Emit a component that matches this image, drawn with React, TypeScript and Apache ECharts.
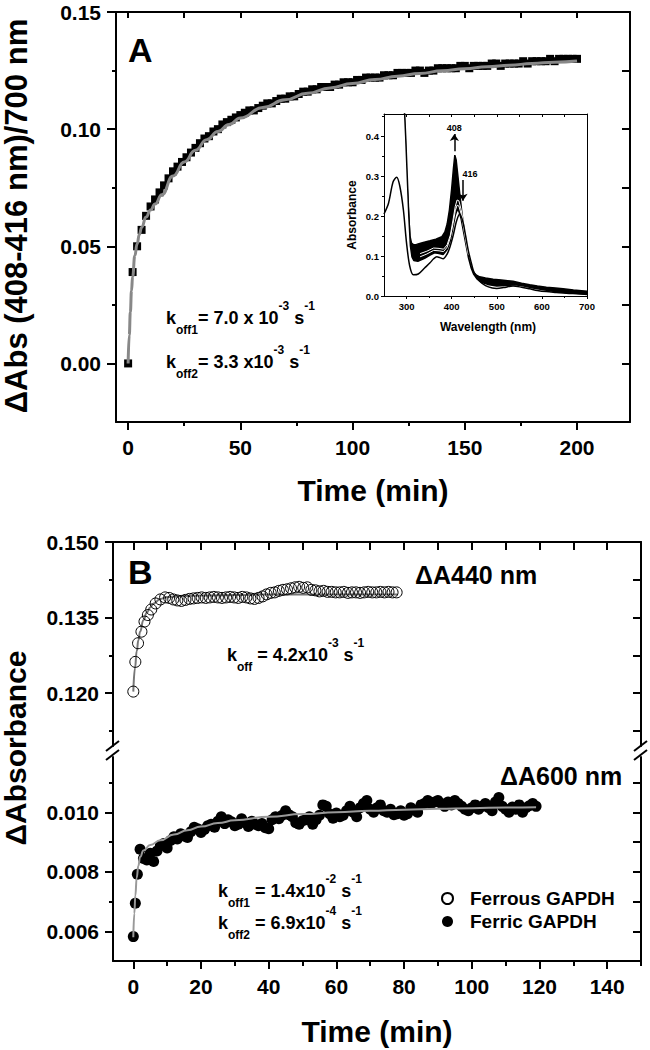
import React, { useEffect, useRef } from "react";
import * as echarts from "echarts";

const FONT = '"Liberation Sans", Arial, Helvetica, sans-serif';

// ---------------- Panel A : kinetics (408-416 nm)/700 nm ----------------
const timeA = [0,2,4,6,8,10,12,14,16,18,20,22,24,26,28,30,32,34,36,38,40,42,44,46,48,50,52,54,56,58,60,62,64,66,68,70,72,74,76,78,80,82,84,86,88,90,92,94,96,98,100,102,104,106,108,110,112,114,116,118,120,122,124,126,128,130,132,134,136,138,140,142,144,146,148,150,152,154,156,158,160,162,164,166,168,170,172,174,176,178,180,182,184,186,188,190,192,194,196,198,200];
const deltaAbsA = [0.000,0.039,0.050,0.057,0.063,0.067,0.070,0.073,0.076,0.079,
  0.082,0.084,0.086,0.088,0.090,0.092,0.094,0.096,0.097,0.099,
  0.100,0.102,0.103,0.104,0.105,0.106,0.107,0.108,0.108,0.109,
  0.110,0.111,0.111,0.112,0.113,0.113,0.114,0.114,0.115,0.116,
  0.116,0.117,0.117,0.118,0.118,0.118,0.119,0.119,0.120,0.120,
  0.120,0.121,0.121,0.122,0.122,0.122,0.122,0.123,0.123,0.123,
  0.124,0.124,0.124,0.124,0.125,0.125,0.124,0.125,0.125,0.126,
  0.126,0.126,0.126,0.126,0.127,0.127,0.126,0.127,0.127,0.127,
  0.127,0.128,0.128,0.127,0.128,0.128,0.128,0.128,0.129,0.128,
  0.129,0.129,0.129,0.129,0.130,0.129,0.130,0.130,0.130,0.130,0.130];
const fitTimeA = [0,0.5,1,1.5,2,3,4,5,6,8,10,12,15,20,25,30,35,40,45,50,60,70,80,90,100,110,120,130,140,150,160,170,180,190,200];
const fitValA = [0,0.012,0.022,0.031,0.037,0.046,0.051,0.055,0.058,0.0625,0.0655,0.068,0.072,0.080,0.086,0.091,0.0955,0.099,0.102,0.1048,0.1092,0.1125,0.1153,0.1176,0.1195,0.1212,0.1226,0.1238,0.1249,0.1258,0.1266,0.1273,0.1280,0.1286,0.1291];

const xTicksA = [0, 50, 100, 150, 200];
const xMinorA = [25, 75, 125, 175];
const yTicksA = [0, 0.05, 0.1, 0.15];
const yMinorA = [0.025, 0.075, 0.125];

// ---------------- Inset : spectra ----------------
const initialWl = [250,260,270,278,285,293,300,307,315,326,340,352,360,367,374,381,390,396,403,411,418,425,431,437,443,448,455,462,475,490,500,515,536,555,573,590,610,632,654,676,700];
const initialAbs = [0.205,0.232,0.285,0.297,0.275,0.215,0.132,0.075,0.053,0.055,0.070,0.083,0.093,0.098,0.096,0.093,0.105,0.122,0.150,0.188,0.205,0.185,0.150,0.113,0.085,0.064,0.048,0.037,0.026,0.020,0.019,0.021,0.025,0.022,0.018,0.014,0.011,0.009,0.007,0.006,0.005];
const finalWl = [294,297,300,303.8,307.5,311,316,322,335,352,365,378,385,390,395,400,404,407,410,414,418,422,426,430,436,442,448,455,462,475,492,510,536,555,573,590,610,630,647,670,700];
const finalAbs = [0.47,0.40,0.30,0.223,0.150,0.132,0.128,0.129,0.133,0.138,0.142,0.148,0.160,0.180,0.215,0.268,0.320,0.352,0.340,0.298,0.255,0.215,0.178,0.145,0.100,0.075,0.060,0.052,0.048,0.045,0.042,0.040,0.037,0.032,0.028,0.025,0.022,0.020,0.018,0.015,0.012];
const earlyWl = [290,298,301.5,305,308.5,312,316,325,340,352,362,372,381,390,397,403,408,412,416,421,426,431,437,443,449,456,465,480,500,520,540,560,580,600,625,650,675,700];
const earlyAbs = [0.60,0.40,0.30,0.20,0.125,0.098,0.089,0.087,0.094,0.102,0.108,0.106,0.104,0.116,0.138,0.172,0.202,0.215,0.212,0.193,0.163,0.133,0.097,0.071,0.054,0.043,0.035,0.029,0.025,0.026,0.028,0.025,0.020,0.016,0.012,0.009,0.006,0.004];
const midWl = [330,345,360,372,382,390,397,403,408,412,416,421,426,431,437];
const mid1Abs = [0.106,0.112,0.120,0.119,0.117,0.128,0.152,0.190,0.224,0.240,0.238,0.216,0.183,0.149,0.109];
const mid2Abs = [0.098,0.105,0.114,0.113,0.111,0.122,0.146,0.181,0.213,0.227,0.225,0.205,0.173,0.141,0.103];

const xTicksInset = [300, 400, 500, 600, 700];
const yTicksInset = [0, 0.1, 0.2, 0.3, 0.4];

// ---------------- Panel B ----------------
const tFerrous = [0,0.6,1.4,2.4,3.3,4.3,5.3,6.6,8.0,9.4,10.6,11.8,13.0,14.2,15.4,16.6,17.8,19.0,20.2,21.4,22.6,23.8,25.0,26.2,27.4,28.6,29.8,31.0,32.2,33.4,34.6,35.8,37.0,38.2,39.4,40.6,41.8,43.0,44.2,45.4,46.6,47.8,49.0,50.2,51.4,52.6,53.8,55.0,56.2,57.4,58.6,59.8,61.0,62.2,63.4,64.6,65.8,67.0,68.2,69.4,70.6,71.8,73.0,74.2,75.4,76.6,77.8];
const aFerrous = [0.1203,0.1262,0.1299,0.1322,0.1342,0.1355,0.1366,0.1378,0.1386,0.1390,0.1389,0.1386,0.1384,0.1383,0.1385,0.1387,0.1388,0.1389,0.1390,0.1389,0.1390,0.1391,0.1390,0.1389,0.1390,0.1391,0.1390,0.1389,0.1391,0.1390,0.1388,0.1387,0.1389,0.1392,0.1396,0.1399,0.1400,0.1403,0.1405,0.1406,0.1408,0.1410,0.1411,0.1409,0.1410,0.1405,0.1404,0.1402,0.1403,0.1401,0.1401,0.1400,0.1400,0.1401,0.1399,0.1400,0.1400,0.1399,0.1400,0.1401,0.1400,0.1400,0.1401,0.1400,0.1401,0.1400,0.1400];
const tFerrousFit = [0,0.5,1,1.5,2,3,4,5,6,8,10,15,20,30,40,50,60,78];
const aFerrousFit = [0.1203,0.1250,0.1283,0.1305,0.1322,0.1345,0.1360,0.1370,0.1378,0.1387,0.1391,0.1393,0.1394,0.1395,0.1396,0.1396,0.1396,0.1396];

const tFerric = [0,0.6,1.2,2,3,4,5,6,7,8,9,10,11,12,13,14,15,16,17,18,19,20,21,22,23,24,25,26,27,28,29,30,31,32,33,34,35,36,37,38,39,40,41,42,43,44,45,46,47,48,49,50,51,52,53,54,55,56,57,58,59,60,61,62,63,64,65,66,67,68,69,70,71,72,73,74,75,76,77,78,79,80,81,82,83,84,85,86,87,88,89,90,91,92,93,94,95,96,97,98,99,100,101,102,103,104,105,106,107,108,109,110,111,112,113,114,115,116,117,118,119];
const aFerric = [0.00582,0.00694,0.00792,0.00876,
  0.00845,0.00840,0.00862,0.00835,0.00870,0.00888,0.00895,0.00880,0.00905,0.00918,
  0.00910,0.00928,0.00920,0.00915,0.00935,0.00950,0.00945,0.00932,0.00942,0.00955,
  0.00960,0.00950,0.00970,0.00985,0.00962,0.00975,0.00968,0.00955,0.00960,0.00978,
  0.00965,0.00952,0.00970,0.00960,0.00955,0.00962,0.00948,0.00945,0.00975,0.00985,
  0.00978,0.00990,0.01005,0.00992,0.00985,0.00965,0.00960,0.00972,0.00975,0.00985,
  0.00960,0.00975,0.00990,0.01025,0.01020,0.00995,0.00980,0.00998,0.00985,0.00990,
  0.01005,0.01020,0.01000,0.00985,0.01015,0.01030,0.01040,0.01010,0.01000,0.01015,
  0.01025,0.01005,0.01000,0.01010,0.00992,0.00995,0.01005,0.00990,0.00995,0.01015,
  0.01008,0.01000,0.01025,0.01030,0.01040,0.01030,0.01035,0.01040,0.01030,0.01020,
  0.01035,0.01025,0.01040,0.01030,0.01020,0.01010,0.01005,0.01015,0.01025,0.01010,
  0.01020,0.01030,0.01015,0.01005,0.01035,0.01050,0.01020,0.01010,0.01000,0.01018,
  0.01010,0.01025,0.01000,0.01015,0.01022,0.01030,0.01020];
const tFerricFit = [0,0.3,0.6,1,1.5,2,3,5,8,12,16,20,25,30,40,50,60,70,80,90,100,110,119];
const aFerricFit = [0.0058,0.0066,0.0072,0.0078,0.0082,0.0085,0.00872,0.0089,0.00906,0.00925,0.0094,0.00952,0.00964,0.00973,0.00985,0.00994,0.0100,0.01005,0.01009,0.01012,0.01014,0.01016,0.01017];

const xTicksB = [0, 20, 40, 60, 80, 100, 120, 140];
const xMinorB = [10, 30, 50, 70, 90, 110, 130, 150];
const xTopB = [0, 10, 20, 30, 40, 50, 60, 70, 80, 90, 100, 110, 120, 130, 140];
const yTicksB1 = [0.12, 0.135, 0.15];
const yMinorB1 = [0.1125, 0.1275, 0.1425];
const yTicksB2 = [0.006, 0.008, 0.01];
const yMinorB2 = [0.007, 0.009, 0.011];

const pairs = (xs: number[], ys: number[]) => xs.map((x, i) => [x, ys[i]]);

function ax(o: any) {
  const {
    gridIndex, position, min, max, line = false, lineWidth = 2, ticks, tickLen = 8,
    tickInside = false, tickWidth = 2, labels, fmt, fontSize = 21, margin = 14, z = 0,
  } = o;
  return {
    type: "value", gridIndex, position, min, max, z,
    axisLine: { show: line, onZero: false, lineStyle: { color: "#000", width: lineWidth } },
    axisTick: ticks
      ? { show: true, customValues: ticks, inside: tickInside, length: tickLen, lineStyle: { color: "#000", width: tickWidth } }
      : { show: false },
    axisLabel: labels
      ? { show: true, customValues: labels, formatter: fmt, margin, fontSize, fontWeight: "bold", fontFamily: FONT, color: "#000" }
      : { show: false },
    splitLine: { show: false },
    axisPointer: { show: false },
  };
}

const richK = {
  m: { fontSize: 18, fontWeight: "bold", fontFamily: FONT, color: "#000", lineHeight: 36 },
  sub: { fontSize: 12, fontWeight: "bold", fontFamily: FONT, color: "#000", lineHeight: 12, verticalAlign: "bottom" },
  sup: { fontSize: 12, fontWeight: "bold", fontFamily: FONT, color: "#000", lineHeight: 24, verticalAlign: "top" },
};

function txt(x: number, y: number, text: string, fontSize: number, extra: any = {}) {
  return {
    type: "text", x, y, rotation: extra.rotation || 0, z: 100,
    style: {
      text, fontSize, fontWeight: extra.weight || "bold", fontFamily: FONT, fill: "#000",
      align: extra.align || "left", verticalAlign: "middle", rich: extra.rich,
    },
  };
}

function ln(x1: number, y1: number, x2: number, y2: number) {
  return { type: "line", z: 100, shape: { x1, y1, x2, y2 }, style: { stroke: "#000", lineWidth: 2 } };
}

export default function App() {
  const ref = useRef<HTMLDivElement>(null);
  useEffect(() => {
    document.body.style.margin = "0";
    const chart = echarts.init(ref.current!, null, { renderer: "svg" });
    const minA = -5.4, maxA = 223.6, yminA = -0.025, ymaxA = 0.15;
    const f2 = (v: number) => v.toFixed(2);
    const f1 = (v: number) => v.toFixed(1);
    const f3 = (v: number) => v.toFixed(3);
    const fs = (v: number) => String(v);
    const option: any = {
      animation: false,
      backgroundColor: "#fff",
      grid: [
        { left: 116, top: 12, width: 514, height: 410 },
        { left: 384, top: 114, width: 203, height: 182 },
        { left: 113, top: 542, width: 528, height: 204 },
        { left: 113, top: 757, width: 528, height: 204 },
      ],
      xAxis: [
        ax({ gridIndex: 0, position: "bottom", min: minA, max: maxA, line: true, ticks: xTicksA, tickLen: 8, labels: xTicksA, fmt: fs, margin: 15 }),
        ax({ gridIndex: 0, position: "bottom", min: minA, max: maxA, ticks: xMinorA, tickLen: 4 }),
        ax({ gridIndex: 0, position: "top", min: minA, max: maxA, line: true, ticks: [...xTicksA, ...xMinorA], tickInside: true, tickLen: 6 }),
        ax({ gridIndex: 1, position: "bottom", min: 250, max: 700, line: true, lineWidth: 1, ticks: xTicksInset, tickLen: 3, tickWidth: 1, labels: xTicksInset, fmt: fs, fontSize: 9.5, margin: 5, z: 10 }),
        ax({ gridIndex: 1, position: "top", min: 250, max: 700, line: true, lineWidth: 1, ticks: [300, 350, 400, 450, 500, 550, 600, 650], tickInside: true, tickLen: 3, tickWidth: 1, z: 10 }),
        ax({ gridIndex: 3, position: "bottom", min: -6, max: 150, line: true, ticks: xTicksB, tickLen: 8, labels: xTicksB, fmt: fs, margin: 15 }),
        ax({ gridIndex: 3, position: "bottom", min: -6, max: 150, ticks: xMinorB, tickLen: 5 }),
        ax({ gridIndex: 2, position: "top", min: -6, max: 150, line: true, ticks: xTopB, tickInside: true, tickLen: 8 }),
        ax({ gridIndex: 1, position: "bottom", min: 250, max: 700, ticks: [350, 450, 550, 650], tickLen: 2, tickWidth: 1, z: 10 }),
      ],
      yAxis: [
        ax({ gridIndex: 0, position: "left", min: yminA, max: ymaxA, line: true, ticks: yTicksA, tickLen: 9, labels: yTicksA, fmt: f2, margin: 15 }),
        ax({ gridIndex: 0, position: "left", min: yminA, max: ymaxA, ticks: yMinorA, tickLen: 4 }),
        ax({ gridIndex: 0, position: "right", min: yminA, max: ymaxA, line: true, ticks: [...yTicksA.slice(0, 3), ...yMinorA], tickInside: true, tickLen: 8 }),
        ax({ gridIndex: 1, position: "left", min: 0, max: 0.455, line: true, lineWidth: 1, ticks: yTicksInset, tickLen: 3, tickWidth: 1, labels: yTicksInset, fmt: f1, fontSize: 9.5, margin: 5, z: 10 }),
        ax({ gridIndex: 1, position: "right", min: 0, max: 0.455, line: true, lineWidth: 1, z: 10 }),
        ax({ gridIndex: 2, position: "left", min: 0.1095, max: 0.15, line: true, ticks: yTicksB1, tickLen: 8, labels: yTicksB1, fmt: f3, margin: 14 }),
        ax({ gridIndex: 2, position: "left", min: 0.1095, max: 0.15, ticks: yMinorB1, tickLen: 4 }),
        ax({ gridIndex: 2, position: "right", min: 0.1095, max: 0.15, line: true, ticks: [0.12, 0.135, ...yMinorB1], tickInside: true, tickLen: 8 }),
        ax({ gridIndex: 3, position: "left", min: 0.005, max: 0.01186, line: true, ticks: yTicksB2, tickLen: 8, labels: yTicksB2, fmt: f3, margin: 14 }),
        ax({ gridIndex: 3, position: "left", min: 0.005, max: 0.01186, ticks: yMinorB2, tickLen: 4 }),
        ax({ gridIndex: 3, position: "right", min: 0.005, max: 0.01186, line: true, ticks: [...yTicksB2, ...yMinorB2], tickInside: true, tickLen: 8 }),
        ax({ gridIndex: 1, position: "left", min: 0, max: 0.455, ticks: [0.05, 0.15, 0.25, 0.35, 0.45], tickLen: 2, tickWidth: 1, z: 10 }),
      ],
      legend: {
        data: [
          { name: "Ferrous GAPDH", icon: "circle" },
          { name: "Ferric GAPDH", icon: "circle" },
        ],
        orient: "vertical", left: 436, top: 884, itemWidth: 11, itemHeight: 11, itemGap: 4,
        selectedMode: false,
        formatter: (name: string) => `{a|${name}}`,
        textStyle: { rich: { a: { fontSize: 19, fontWeight: "bold", fontFamily: FONT, color: "#000", padding: [0, 0, 0, 12], lineHeight: 22 } } },
      },
      series: [
        { name: "A data", type: "scatter", xAxisIndex: 0, yAxisIndex: 0, data: pairs(timeA, deltaAbsA), symbol: "rect", symbolSize: 8, itemStyle: { color: "#000", opacity: 1 }, z: 2 },
        { name: "A fit", type: "line", xAxisIndex: 0, yAxisIndex: 0, data: pairs(fitTimeA, fitValA), symbol: "none", smooth: true, smoothMonotone: "x", lineStyle: { color: "#888", width: 3 }, z: 3 },
        { name: "final", type: "line", xAxisIndex: 3, yAxisIndex: 3, data: pairs(finalWl, finalAbs), symbol: "none", lineStyle: { color: "#000", width: 1.5 }, areaStyle: { color: "#000", opacity: 1 }, z: 2 },
        { name: "early", type: "line", xAxisIndex: 3, yAxisIndex: 3, data: pairs(earlyWl, earlyAbs), symbol: "none", lineStyle: { color: "#000", width: 1.5 }, areaStyle: { color: "#fff", opacity: 1 }, z: 3 },
        { name: "mid1", type: "line", xAxisIndex: 3, yAxisIndex: 3, data: pairs(midWl, mid1Abs), symbol: "none", lineStyle: { color: "#fff", width: 1 }, z: 4 },
        { name: "mid2", type: "line", xAxisIndex: 3, yAxisIndex: 3, data: pairs(midWl, mid2Abs), symbol: "none", lineStyle: { color: "#fff", width: 1 }, z: 4 },
        {
          name: "initial", type: "line", xAxisIndex: 3, yAxisIndex: 3, data: pairs(initialWl, initialAbs), symbol: "none", smooth: 0.3,
          lineStyle: { color: "#000", width: 1.5 }, z: 5,
          markLine: {
            silent: true, symbol: ["none", "arrow"], symbolSize: 7, animation: false,
            lineStyle: { color: "#000", width: 1.5, type: "solid" },
            label: { show: true, fontSize: 9, fontWeight: "bold", fontFamily: FONT, color: "#000", distance: 2 },
            data: [
              [{ coord: [406, 0.362], label: { formatter: "408", position: "end" } }, { coord: [406, 0.405] }],
              [{ coord: [425, 0.29], label: { formatter: "416", position: "start", padding: [0, 0, 0, 14] } }, { coord: [425, 0.238] }],
            ],
          },
        },
        { name: "Ferrous fit", type: "line", xAxisIndex: 7, yAxisIndex: 5, data: pairs(tFerrousFit, aFerrousFit), symbol: "none", smooth: true, smoothMonotone: "x", lineStyle: { color: "#777", width: 2 }, z: 2 },
        { name: "Ferrous GAPDH", type: "scatter", xAxisIndex: 7, yAxisIndex: 5, data: pairs(tFerrous, aFerrous), symbol: "circle", symbolSize: 11, itemStyle: { color: "rgba(255,255,255,0)", borderColor: "#000", borderWidth: 1, opacity: 1 }, z: 3 },
        { name: "Ferric GAPDH", type: "scatter", xAxisIndex: 5, yAxisIndex: 8, data: pairs(tFerric, aFerric), symbol: "circle", symbolSize: 11, itemStyle: { color: "#000", opacity: 1 }, z: 2 },
        { name: "Ferric fit", type: "line", xAxisIndex: 5, yAxisIndex: 8, data: pairs(tFerricFit, aFerricFit), symbol: "none", smooth: true, smoothMonotone: "x", lineStyle: { color: "#999", width: 2 }, z: 3 },
      ],
      graphic: [
        txt(16, 216, "ΔAbs (408-416 nm)/700 nm", 31, { rotation: Math.PI / 2, align: "center" }),
        txt(373, 490, "Time (min)", 30, { align: "center" }),
        txt(128, 50, "A", 34),
        txt(166, 318, "{m|k}{sub|off1}{m|= 7.0 x 10}{sup|-3}{m| s}{sup|-1}", 18, { rich: richK }),
        txt(166, 362, "{m|k}{sub|off2}{m|= 3.3 x10}{sup|-3}{m| s}{sup|-1}", 18, { rich: richK }),
        txt(352, 215, "Absorbance", 12, { rotation: Math.PI / 2, align: "center" }),
        txt(488, 327, "Wavelength (nm)", 12, { align: "center" }),
        txt(15, 748, "ΔAbsorbance", 30, { rotation: Math.PI / 2, align: "center" }),
        txt(377, 1031, "Time (min)", 30, { align: "center" }),
        txt(128, 572, "B", 34),
        txt(415, 575, "ΔA440 nm", 25),
        txt(500, 776, "ΔA600 nm", 25),
        txt(227, 655, "{m|k}{sub|off}{m| = 4.2x10}{sup|-3}{m| s}{sup|-1}", 18, { rich: richK }),
        txt(218, 891, "{m|k}{sub|off1}{m| = 1.4x10}{sup|-2}{m| s}{sup|-1}", 18, { rich: richK }),
        txt(218, 923, "{m|k}{sub|off2}{m| = 6.9x10}{sup|-4}{m| s}{sup|-1}", 18, { rich: richK }),
        ln(106, 751, 119, 741),
        ln(106, 760, 119, 750),
        ln(634, 751, 647, 741),
        ln(634, 760, 647, 750),
      ],
    };
    chart.setOption(option);
    return () => chart.dispose();
  }, []);
  return <div ref={ref} style={{ position: "absolute", left: 0, top: 0, width: 650, height: 1050 }} />;
}
